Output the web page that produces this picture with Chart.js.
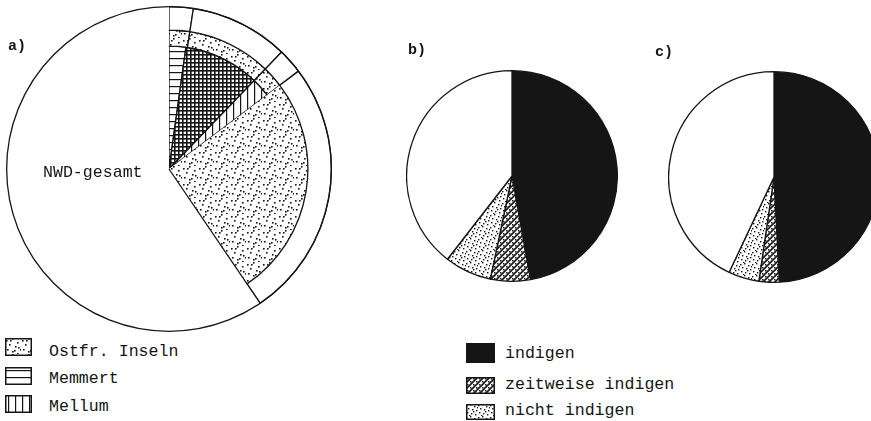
<!DOCTYPE html>
<html>
<head>
<meta charset="utf-8">
<script src="https://cdn.jsdelivr.net/npm/chart.js@4.4.0/dist/chart.umd.min.js"></script>
<style>
  html, body { margin: 0; padding: 0; width: 871px; height: 421px; overflow: hidden; background: #fff; }
  body { position: relative; font-family: "Liberation Mono", "DejaVu Sans Mono", monospace; color: #151515; }
  canvas.pie { position: absolute; z-index: 1; }
  .tag { position: absolute; z-index: 2; font-weight: bold; font-size: 15px; line-height: 15px; }
  .txt { position: absolute; z-index: 2; font-size: 16.6px; line-height: 16.6px; white-space: nowrap; }
  .sw { position: absolute; }
</style>
</head>
<body>
<div class="tag" style="left:8px;top:39px">a)</div>
<div class="tag" style="left:408px;top:43px">b)</div>
<div class="tag" style="left:655px;top:45px">c)</div>
<div class="txt" style="left:43px;top:165px">NWD-gesamt</div>

<canvas id="pieA" class="pie" width="326" height="326" style="left:6px;top:6px"></canvas>
<canvas id="pieB" class="pie" width="212" height="212" style="left:406px;top:70px"></canvas>
<canvas id="pieC" class="pie" width="212" height="212" style="left:668px;top:71px"></canvas>

<div id="legendA"></div>
<div id="legendB"></div>

<script>
// ---- data ----
// a) three rings, shares in percent of the full circle (clockwise from top)
const ringOuterLabels  = ['Rand 1', 'Rand 2', 'Rand 3', 'Rand 4', 'NWD-gesamt'];
const ringOuter        = [2.4, 9.8, 2.5, 25.8, 59.5];
const ringMiddleLabels = ['Ostfr. Inseln', 'Ostfr. Inseln', 'Ostfr. Inseln', 'Ostfr. Inseln', 'NWD-gesamt'];
const ringMiddle       = [2.4, 9.8, 2.5, 25.8, 59.5];
const ringInnerLabels  = ['Memmert', 'Memmert + Mellum', 'Mellum', 'Ostfr. Inseln', 'NWD-gesamt'];
const ringInner        = [2.2, 10.0, 2.5, 25.8, 59.5];

// b) and c) status shares in percent
const statusLabels = ['indigen', 'zeitweise indigen', 'nicht indigen', 'übrige'];
const statusB = [47.2, 6.1, 7.2, 39.5];
const statusC = [49.2, 3.1, 4.7, 43.0];

// legends
const legendALabels = ['Ostfr. Inseln', 'Memmert', 'Mellum'];
const legendBLabels = ['indigen', 'zeitweise indigen', 'nicht indigen'];

// ---- styles ----
const INK = '#151515';
const LINE = 1.3;

function tile(w, h, draw) {
  const c = document.createElement('canvas');
  c.width = w; c.height = h;
  const g = c.getContext('2d');
  g.fillStyle = '#fff';
  g.fillRect(0, 0, w, h);
  g.fillStyle = INK;
  g.strokeStyle = INK;
  draw(g, w, h);
  return c;
}

const tiles = {
  white: tile(4, 4, () => {}),
  black: tile(4, 4, (g, w, h) => g.fillRect(0, 0, w, h)),
  dots: tile(16, 16, g => {
    [[1, 2], [7, 0], [12, 4], [4, 6], [10, 8], [15, 11], [2, 11], [7, 13], [12, 15], [5, 2], [13, 9], [9, 12]]
      .forEach(p => g.fillRect(p[0], p[1], 1.6, 1.6));
  }),
  dotsDense: tile(12, 12, g => {
    [[0, 1], [4, 0], [8, 2], [2, 4], [6, 5], [10, 6], [1, 8], [5, 9], [9, 10], [3, 11], [11, 3], [7, 7]]
      .forEach(p => g.fillRect(p[0], p[1], 1.4, 1.4));
  }),
  hlines: tile(6, 7, (g, w) => g.fillRect(0, 3, w, 1.2)),
  vlines: tile(7, 6, (g, w, h) => g.fillRect(3, 0, 1.2, h)),
  cross: tile(4, 4, (g, w, h) => { g.fillRect(0, 0, w, 1.6); g.fillRect(0, 0, 1.6, h); }),
  hatch: tile(6, 6, g => {
    g.lineWidth = 1.6;
    g.beginPath();
    g.moveTo(-1, 7); g.lineTo(7, -1);
    g.moveTo(-1, 1); g.lineTo(1, -1);
    g.moveTo(5, 7); g.lineTo(7, 5);
    g.stroke();
    g.fillRect(1, 1, 1.5, 1.5);
    g.fillRect(4, 4, 1.5, 1.5);
  })
};

function pat(ctx, name) {
  return ctx.createPattern(tiles[name], 'repeat');
}

// draws the outer circle and the closing radius that Chart.js skips on borderless slices
const outlinePlugin = {
  id: 'outline',
  afterDatasetsDraw(chart) {
    const ctx = chart.ctx;
    const outer = chart.getDatasetMeta(0).data[0];
    const innerMeta = chart.getDatasetMeta(chart.data.datasets.length - 1).data;
    const last = innerMeta[innerMeta.length - 1];
    const R = outer.outerRadius;
    ctx.save();
    ctx.strokeStyle = INK;
    ctx.lineWidth = LINE;
    ctx.beginPath();
    ctx.arc(outer.x, outer.y, R, 0, Math.PI * 2);
    ctx.stroke();
    ctx.beginPath();
    ctx.moveTo(outer.x, outer.y);
    ctx.lineTo(outer.x + Math.cos(last.startAngle) * R, outer.y + Math.sin(last.startAngle) * R);
    ctx.stroke();
    ctx.restore();
  }
};

const baseOptions = {
  responsive: false,
  animation: false,
  events: [],
  layout: { padding: 0 },
  plugins: { legend: { display: false }, tooltip: { enabled: false } }
};

// ---- chart a ----
const ctxA = document.getElementById('pieA').getContext('2d');
new Chart(ctxA, {
  type: 'pie',
  data: {
    labels: ringInnerLabels,
    datasets: [
      {
        label: 'aussen',
        data: ringOuter,
        weight: 23.5,
        backgroundColor: ringOuter.map(() => '#fff'),
        borderColor: INK,
        borderWidth: [LINE, LINE, LINE, LINE, 0]
      },
      {
        label: 'mitte',
        data: ringMiddle,
        weight: 16,
        backgroundColor: ['dots', 'dots', 'dots', 'dots', 'white'].map(n => pat(ctxA, n)),
        borderColor: INK,
        borderWidth: [LINE, LINE, LINE, 0, 0]
      },
      {
        label: 'innen',
        data: ringInner,
        weight: 123,
        backgroundColor: ['hlines', 'cross', 'vlines', 'dots', 'white'].map(n => pat(ctxA, n)),
        borderColor: INK,
        borderWidth: [LINE, LINE, LINE, 0, 0]
      }
    ]
  },
  options: baseOptions,
  plugins: [outlinePlugin]
});

// ---- charts b and c ----
function statusPie(id, values) {
  const ctx = document.getElementById(id).getContext('2d');
  return new Chart(ctx, {
    type: 'pie',
    data: {
      labels: statusLabels,
      datasets: [{
        data: values,
        backgroundColor: ['black', 'hatch', 'dotsDense', 'white'].map(n => pat(ctx, n)),
        borderColor: INK,
        borderWidth: LINE
      }]
    },
    options: baseOptions
  });
}
statusPie('pieB', statusB);
statusPie('pieC', statusC);

// ---- legends ----
function legend(holder, labels, swatches, box, textX, baselines, tops, heights) {
  const el = document.getElementById(holder);
  labels.forEach((lab, i) => {
    const c = document.createElement('canvas');
    c.className = 'sw';
    c.width = box.w; c.height = heights[i];
    c.style.left = box.x + 'px';
    c.style.top = tops[i] + 'px';
    const g = c.getContext('2d');
    g.fillStyle = g.createPattern(tiles[swatches[i]], 'repeat');
    g.fillRect(0, 0, box.w, heights[i]);
    g.strokeStyle = INK;
    g.lineWidth = 1.5;
    g.strokeRect(0.75, 0.75, box.w - 1.5, heights[i] - 1.5);
    el.appendChild(c);
    const t = document.createElement('div');
    t.className = 'txt';
    t.textContent = lab;
    t.style.left = textX + 'px';
    t.style.top = (baselines[i] - 12.7) + 'px';
    el.appendChild(t);
  });
}
legend('legendA', legendALabels, ['dots', 'hlines', 'vlines'],
  { x: 5, w: 27 }, 49, [357, 384, 411.5], [338, 367, 395], [18, 18, 18]);
legend('legendB', legendBLabels, ['black', 'hatch', 'dotsDense'],
  { x: 466, w: 29 }, 505, [359, 389.5, 416], [343, 377, 404], [20, 17, 16]);
</script>
</body>
</html>
